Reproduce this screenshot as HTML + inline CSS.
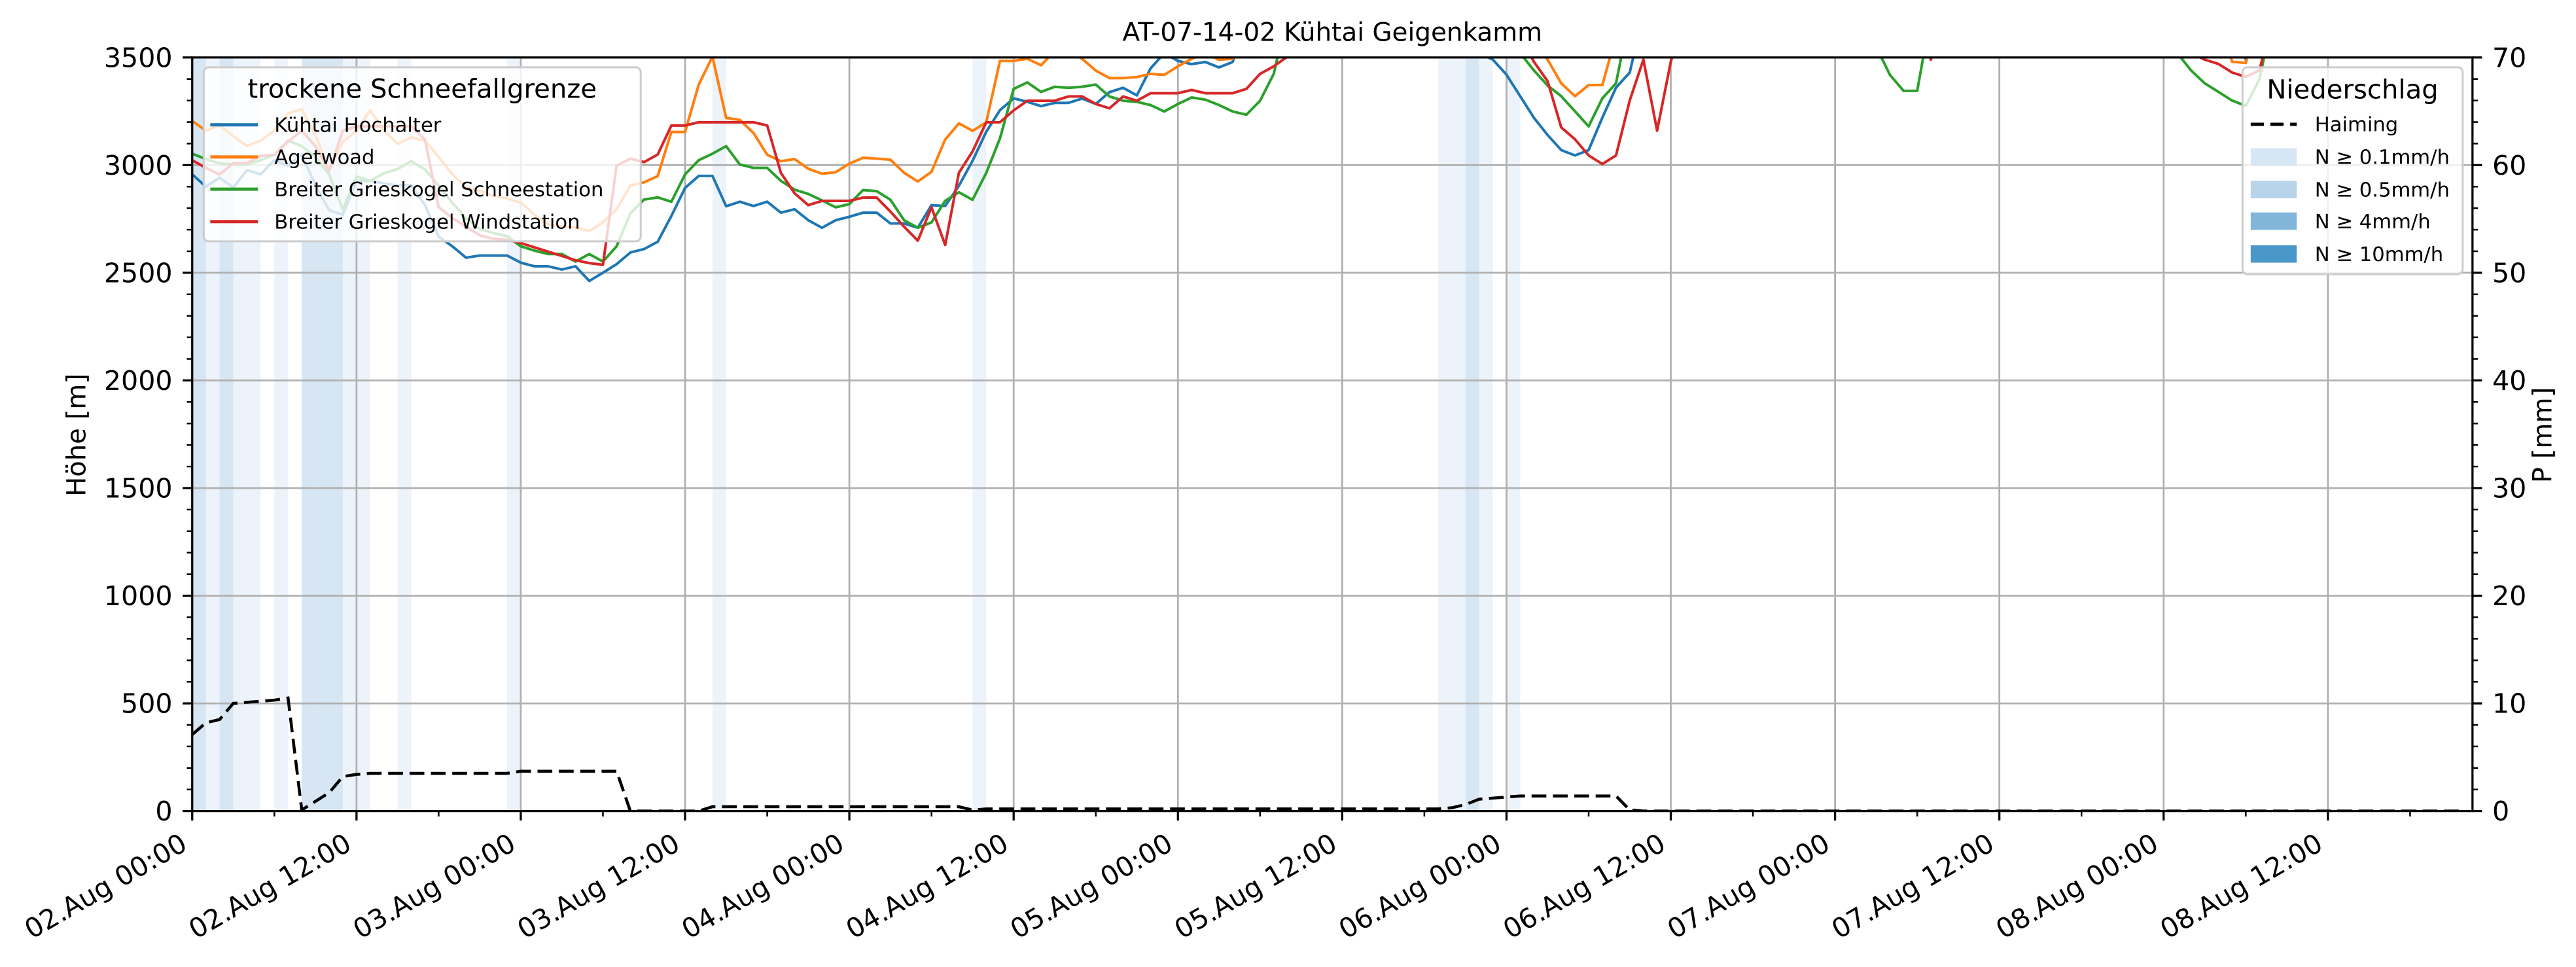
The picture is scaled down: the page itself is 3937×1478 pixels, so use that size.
<!DOCTYPE html>
<html><head><meta charset="utf-8">
<style>
html,body{margin:0;padding:0;background:#fff;}
svg{display:block;}
text{font-family:"DejaVu Sans","Liberation Sans",sans-serif;fill:#000;}
</style></head>
<body>
<svg id="chart" xmlns="http://www.w3.org/2000/svg" width="3937" height="1478" viewBox="0 0 1568 589" preserveAspectRatio="none">
<defs><clipPath id="plotclip"><rect x="117" y="35" width="1388" height="459"/></clipPath></defs>
<rect x="0" y="0" width="1568" height="589" fill="#fff"/>
<g id="bands"></g>
<g id="grid"></g>
<g id="series" clip-path="url(#plotclip)"></g>
<g id="axes"></g>
<text x="811" y="25" text-anchor="middle" font-size="15.5">AT-07-14-02 Kühtai Geigenkamm</text>
<text transform="translate(52,265) rotate(-90)" text-anchor="middle" font-size="16">Höhe [m]</text>
<text transform="translate(1553,265) rotate(-90)" text-anchor="middle" font-size="16">P [mm]</text>
<g>
<rect x="124" y="41" width="266" height="106" rx="3" fill="#fff" fill-opacity="0.8" stroke="#cccccc" stroke-width="1.2"/>
<text x="257" y="59.5" text-anchor="middle" font-size="16">trockene Schneefallgrenze</text>
<line x1="128" y1="76" x2="157" y2="76" stroke="#1f77b4" stroke-width="2"/>
<text x="167" y="80.3" font-size="12.2">Kühtai Hochalter</text>
<line x1="128" y1="95.6" x2="157" y2="95.6" stroke="#ff7f0e" stroke-width="2"/>
<text x="167" y="99.9" font-size="12.2">Agetwoad</text>
<line x1="128" y1="115.2" x2="157" y2="115.2" stroke="#2ca02c" stroke-width="2"/>
<text x="167" y="119.5" font-size="12.2">Breiter Grieskogel Schneestation</text>
<line x1="128" y1="135" x2="157" y2="135" stroke="#d62728" stroke-width="2"/>
<text x="167" y="139.3" font-size="12.2">Breiter Grieskogel Windstation</text>
</g>
<g>
<rect x="1365" y="41" width="134" height="126" rx="3" fill="#fff" fill-opacity="0.8" stroke="#cccccc" stroke-width="1.2"/>
<text x="1432" y="60" text-anchor="middle" font-size="16">Niederschlag</text>
<line x1="1370" y1="75.7" x2="1398" y2="75.7" stroke="#000" stroke-width="2" stroke-dasharray="8,4"/>
<text x="1409" y="80" font-size="12.2">Haiming</text>
<rect x="1370" y="90.3" width="28" height="10.6" fill="#d6e6f4"/>
<text x="1409" y="99.9" font-size="12.2">N ≥ 0.1mm/h</text>
<rect x="1370" y="110.2" width="28" height="10.6" fill="#b7d4ea"/>
<text x="1409" y="119.8" font-size="12.2">N ≥ 0.5mm/h</text>
<rect x="1370" y="129.4" width="28" height="10.6" fill="#81b6d9"/>
<text x="1409" y="139" font-size="12.2">N ≥ 4mm/h</text>
<rect x="1370" y="149.4" width="28" height="10.6" fill="#4a98c9"/>
<text x="1409" y="159" font-size="12.2">N ≥ 10mm/h</text>
</g>
</svg>
<script>
const xTickLabels = ["02.Aug 00:00","02.Aug 12:00","03.Aug 00:00","03.Aug 12:00","04.Aug 00:00","04.Aug 12:00","05.Aug 00:00","05.Aug 12:00","06.Aug 00:00","06.Aug 12:00","07.Aug 00:00","07.Aug 12:00","08.Aug 00:00","08.Aug 12:00"];
const yTicks = [0,500,1000,1500,2000,2500,3000,3500];
const y2Ticks = [0,10,20,30,40,50,60,70];
const bandHoursLight = [1,3,4,6,11,12,15,23,38,57,91,92,94,96];
const bandHoursDark = [0,2,8,9,10,93];
const kuehtai = [2957,2900,2942,2896,2977,2957,3023,2997,3050,2906,
2790,2770,2927,2927,2915,2906,2906,2815,2668,2623,
2570,2580,2580,2580,2547,2530,2530,2515,2530,2462,
2500,2540,2594,2610,2644,2764,2894,2950,2950,2809,
2830,2810,2830,2779,2795,2744,2709,2744,2760,2779,
2779,2729,2729,2709,2814,2810,2904,3020,3155,3255,
3310,3294,3274,3289,3289,3309,3284,3339,3359,3324,
3449,3520,3484,3469,3479,3454,3479,
3700,3700,3700,3700,3700,3700,3700,3700,3700,3700,3700,3700,3700,3700,3700,3700,3700,
3520,3490,3420,3320,3220,3140,3070,3045,3070,3220,3360,3430,
3700,3700,3700,3700,3700,3700,3700,3700,3700,3700,3700,3700,3700,3700,3700,3700,3700,3700,3700,3700,3700,3700,
3700,3700,3700,3700,3700,3700,3700,3700,3700,3700,3700,3700,3700,3700,3700,3700,3700,3700,3700,3700,3700,3700,
3490,
3700,3700,3700,3700,3700,3700,3700,3700,3700,3700,3700,3700,3700,3700,3700,3700];
const agetwoad = [3205,3160,3185,3134,3089,3114,3160,3240,3260,3139,
2977,3109,3160,3255,3160,3099,3129,3114,3038,2957,
2896,2880,2856,2845,2825,2770,2724,2715,2710,2694,
2734,2795,2904,2920,2949,3154,3154,3374,3504,3219,
3210,3149,3048,3018,3028,2983,2960,2967,3007,3034,
3030,3025,2964,2924,2969,3119,3194,3159,3199,3484,
3484,3494,3464,3530,3530,3494,3439,3404,3404,3409,
3424,3419,3459,3494,3520,3489,3494,
3700,3700,3700,3700,3700,3700,3700,3700,3700,3700,3700,3700,3700,3700,3700,3700,3700,3700,3700,3700,3700,
3600,3490,3380,3320,3372,3372,3600,
3700,3700,3700,3700,3700,3700,3700,3700,3700,3700,3700,3700,3700,3700,3700,3700,3700,3700,3700,3700,3700,3700,
3700,3700,3700,3700,3700,3700,3700,3700,3700,3700,3700,3700,3700,3700,3700,3700,3700,3700,3700,3700,3700,3700,
3480,3475,
3700,3700,3700,3700,3700,3700,3700,3700,3700,3700,3700,3700,3700,3700,3700,3700];
const schneestation = [3053,3028,3008,3003,3003,3023,3048,3114,3088,3038,
2957,2795,2947,2927,2962,2982,3018,2980,2906,2825,
2754,2704,2684,2670,2623,2603,2587,2587,2552,2587,
2552,2623,2775,2840,2850,2830,2957,3023,3053,3088,
3003,2987,2987,2927,2886,2866,2836,2804,2819,2884,
2879,2839,2744,2709,2734,2834,2874,2839,2964,3124,
3354,3384,3340,3364,3359,3364,3374,3319,3299,3294,
3279,3249,3284,3314,3304,3279,3249,3234,3299,3424,
3700,3700,3700,3700,3700,3700,3700,3700,3700,3700,3700,3700,3700,3700,3700,3700,3700,
3520,3440,3370,3320,3250,3180,3310,3380,
3700,3700,3700,3700,3700,3700,3700,3700,3700,3700,3700,3700,3700,3700,3700,3700,3700,3700,
3550,3420,3345,3345,
3700,3700,3700,3700,3700,3700,3700,3700,3700,3700,3700,3700,3700,3700,3700,3700,3700,3700,
3520,3440,3380,3340,3300,3275,3400,
3700,3700,3700,3700,3700,3700,3700,3700,3700,3700,3700,3700,3700,3700,3700];
const windstation = [3023,2987,2957,3008,3010,3043,3048,3109,3160,3088,
2972,3160,3180,3180,3180,3180,3180,3119,2805,2754,
2714,2674,2658,2653,2638,2618,2598,2578,2558,2545,
2537,2997,3030,3014,3049,3184,3184,3199,3199,3199,
3199,3199,3184,2964,2869,2814,2834,2834,2834,2849,
2849,2784,2714,2649,2804,2629,2964,3064,3199,3199,
3254,3299,3299,3299,3319,3319,3284,3264,3319,3299,
3334,3334,3334,3349,3334,3334,3334,3354,3424,3459,3504,
3700,3700,3700,3700,3700,3700,3700,3700,3700,3700,3700,3700,3700,3700,3700,3700,
3600,3480,3390,3175,3120,3045,3005,3045,3300,3490,3160,3480,
3700,3700,3700,3700,3700,3700,3700,3700,3700,3700,3700,3700,3700,3700,3700,3700,3700,3700,
3490,
3700,3700,3700,3700,3700,3700,3700,3700,3700,3700,3700,3700,3700,3700,3700,3700,3700,3700,
3520,3490,3470,3430,3410,3440,
3700,3700,3700,3700,3700,3700,3700,3700,3700,3700,3700,3700,3700,3700,3700];
const haiming = [7.1,8.2,8.5,10.0,10.1,10.2,10.3,10.5,0.1,0.9,1.7,3.2,3.4,
3.5,3.5,3.5,3.5,3.5,3.5,3.5,3.5,3.5,3.5,3.5,
3.7,3.7,3.7,3.7,3.7,3.7,3.7,3.7,
0,0,0,0,0,0,
0.4,0.4,0.4,0.4,0.4,0.4,0.4,0.4,0.4,0.4,0.4,0.4,0.4,0.4,0.4,0.4,0.4,0.4,0.4,
0.1,
0.2,0.2,0.2,0.2,0.2,0.2,0.2,0.2,0.2,0.2,0.2,0.2,0.2,0.2,0.2,0.2,0.2,0.2,0.2,0.2,0.2,0.2,0.2,0.2,0.2,0.2,0.2,0.2,0.2,0.2,0.2,0.2,0.2,0.2,
0.3,0.6,1.1,1.2,1.3,1.4,1.4,1.4,1.4,1.4,1.4,1.4,1.4,
0.1,
0,0,0,0,0,0,0,0,0,0,0,0,0,0,0,0,0,0,0,0,0,0,0,0,0,0,0,0,0,0,0,0,0,0,0,0,0,0,0,0,0,0,0,0,0,0,0,0,0,0,0,0,0,0,0,0,0,0,0,0,0];

const NS = "http://www.w3.org/2000/svg";
const L = 117, R = 1505, T = 35, B = 494;
function xh(h){ return L + h * 100 / 12; }
function yv(v){ return B - v * (B - T) / 3500; }
function yp(p){ return B - p * (B - T) / 70; }
function mk(tag, attrs, parent){
  const el = document.createElementNS(NS, tag);
  for (const k in attrs) el.setAttribute(k, attrs[k]);
  parent.appendChild(el);
  return el;
}
const gB = document.getElementById('bands');
const gG = document.getElementById('grid');
const gS = document.getElementById('series');
const gA = document.getElementById('axes');

bandHoursLight.forEach(h => {
  const r = mk('rect', {x: xh(h), y: T, width: xh(h+1)-xh(h), height: B-T, fill: '#edf3fa'}, gB);
  
  
});
bandHoursDark.forEach(h => {
  const r = mk('rect', {x: xh(h), y: T, width: xh(h+1)-xh(h), height: B-T, fill: '#d7e6f3'}, gB);
  
  
});

xTickLabels.forEach((lab, i) => {
  const x = xh(i * 12);
  const g = mk('line', {x1: x, y1: T, x2: x, y2: B, stroke: '#b0b0b0', 'stroke-width': 1.1}, gG);
  
  
});
yTicks.forEach(v => {
  const y = yv(v);
  const g = mk('line', {x1: L, y1: y, x2: R, y2: y, stroke: '#b0b0b0', 'stroke-width': 1.1}, gG);
  
  
});

function drawSeries(vals, color, name){
  const pts = vals.map((v, i) => xh(i).toFixed(2) + ',' + yv(v).toFixed(2)).join(' ');
  const p = mk('polyline', {points: pts, fill: 'none', stroke: color, 'stroke-width': 1.6, 'stroke-linejoin': 'round'}, gS);
  
  
}
drawSeries(kuehtai, '#1f77b4', 'series-kuehtai-hochalter');
drawSeries(agetwoad, '#ff7f0e', 'series-agetwoad');
drawSeries(schneestation, '#2ca02c', 'series-breiter-grieskogel-schneestation');
drawSeries(windstation, '#d62728', 'series-breiter-grieskogel-windstation');
(function(){
  const pts = haiming.map((v, i) => xh(i).toFixed(2) + ',' + yp(v).toFixed(2)).join(' ');
  const p = mk('polyline', {points: pts, fill: 'none', stroke: '#000', 'stroke-width': 1.8, 'stroke-dasharray': '9,4'}, gS);
  
  
})();

// spines
const sp = mk('rect', {x: L, y: T, width: R-L, height: B-T, fill: 'none', stroke: '#000', 'stroke-width': 1.3}, gA);



// left ticks
for (let v = 0; v <= 3500; v += 100) {
  const y = yv(v);
  const major = (v % 500 === 0);
  const t = mk('line', {x1: L - (major ? 5.8 : 3.3), y1: y, x2: L, y2: y, stroke: '#000', 'stroke-width': major ? 1.3 : 1}, gA);
  
  
}
yTicks.forEach(v => {
  const t = mk('text', {x: 105, y: yv(v) + 5.8, 'text-anchor': 'end', 'font-size': 16.4}, gA);
  t.textContent = String(v);
  
  
});
// right ticks
for (let p = 0; p <= 70; p += 2) {
  const y = yp(p);
  const major = (p % 10 === 0);
  const t = mk('line', {x1: R, y1: y, x2: R + (major ? 5.8 : 3.3), y2: y, stroke: '#000', 'stroke-width': major ? 1.3 : 1}, gA);
  
  
}
y2Ticks.forEach(p => {
  const t = mk('text', {x: 1517, y: yp(p) + 5.8, 'font-size': 16.4}, gA);
  t.textContent = String(p);
  
  
});
// x ticks
for (let h = 0; h <= 166; h += 6) {
  const x = xh(h);
  const major = (h % 12 === 0);
  const t = mk('line', {x1: x, y1: B, x2: x, y2: B + (major ? 5.8 : 3.3), stroke: '#000', 'stroke-width': major ? 1.3 : 1}, gA);
  
  
}
xTickLabels.forEach((lab, i) => {
  const x = xh(i * 12) - 2;
  const y = 506 + 11;
  const t = mk('text', {x: x, y: y, 'text-anchor': 'end', 'font-size': 16.4, transform: 'rotate(-30 ' + x + ' ' + y + ')'}, gA);
  t.textContent = lab;
  
  
});
</script>
</body></html>
